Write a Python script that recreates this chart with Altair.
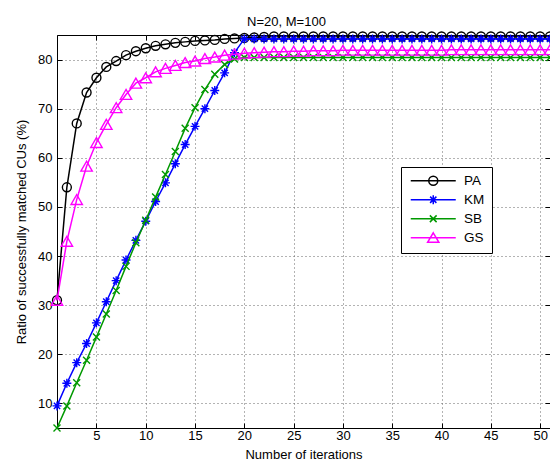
import altair as alt
import pandas as pd

iterations = list(range(1, 52))

PA = [31.0, 54.0, 67.0, 73.3, 76.3, 78.5, 79.7, 80.9, 81.7, 82.3,
      82.8, 83.1, 83.4, 83.6, 83.8, 83.9, 84.0, 84.2, 84.3, 84.4,
      84.5, 84.6, 84.7, 84.7, 84.7, 84.7, 84.7, 84.7, 84.7, 84.7,
      84.7, 84.7, 84.7, 84.7, 84.7, 84.7, 84.7, 84.7, 84.7, 84.7,
      84.7, 84.7, 84.7, 84.7, 84.7, 84.7, 84.7, 84.7, 84.7, 84.7,
      84.7]
KM = [9.5, 14.1, 18.3, 22.2, 26.4, 30.7, 35.0, 39.2, 43.2, 47.1,
      51.1, 54.9, 58.8, 62.7, 66.4, 70.0, 73.7, 77.3, 81.4, 84.2,
      84.2, 84.2, 84.2, 84.2, 84.2, 84.2, 84.2, 84.2, 84.2, 84.2,
      84.2, 84.2, 84.2, 84.2, 84.2, 84.2, 84.2, 84.2, 84.2, 84.2,
      84.2, 84.2, 84.2, 84.2, 84.2, 84.2, 84.2, 84.2, 84.2, 84.2,
      84.2]
SB = [5.0, 9.5, 14.2, 18.8, 23.5, 28.2, 33.0, 37.9, 42.7, 47.3,
      52.0, 56.6, 61.3, 66.0, 70.2, 73.9, 77.0, 79.0, 80.1, 80.4,
      80.4, 80.4, 80.4, 80.4, 80.4, 80.4, 80.4, 80.4, 80.4, 80.4,
      80.4, 80.4, 80.4, 80.4, 80.4, 80.4, 80.4, 80.4, 80.4, 80.4,
      80.4, 80.4, 80.4, 80.4, 80.4, 80.4, 80.4, 80.4, 80.4, 80.4,
      80.4]
GS = [31.0, 43.0, 51.5, 58.3, 63.1, 66.8, 70.2, 72.9, 75.2, 76.3,
      77.5, 78.2, 78.8, 79.4, 79.7, 80.2, 80.5, 80.9, 81.1, 81.3,
      81.4, 81.5, 81.6, 81.6, 81.7, 81.7, 81.8, 81.8, 81.8, 81.9,
      81.9, 81.9, 81.9, 81.9, 81.9, 81.9, 81.9, 81.9, 81.9, 81.9,
      82.0, 82.0, 82.0, 82.0, 82.0, 82.0, 82.0, 82.0, 82.0, 82.0,
      82.0]

series_names = ["PA", "KM", "SB", "GS"]
series_values = [PA, KM, SB, GS]
colors = ["#000000", "#0000ff", "#009900", "#ff00ff"]

x_ticks = [5, 10, 15, 20, 25, 30, 35, 40, 45, 50]
y_ticks = [10, 20, 30, 40, 50, 60, 70, 80]

ASTER = "M0,-1L0,1M-1,0L1,0M-0.7,-0.7L0.7,0.7M-0.7,0.7L0.7,-0.7"
XMARK = "M-1,-1L1,1M-1,1L1,-1"
marker_shapes = ["circle", ASTER, XMARK, "triangle-up"]
marker_sizes = [80, 81, 49, 130]

legend_paths = [
    "M-5,0L5,0M1,0A1,1 0 1,1 -1,0A1,1 0 1,1 1,0",
    "M-5,0L5,0M0,-1L0,1M-0.7,-0.7L0.7,0.7M-0.7,0.7L0.7,-0.7",
    "M-5,0L5,0M-0.75,-0.75L0.75,0.75M-0.75,0.75L0.75,-0.75",
    "M-5,0L5,0M0,-1.1L1.25,1L-1.25,1Z",
]

rows = []
for name, vals in zip(series_names, series_values):
    for it, v in zip(iterations, vals):
        rows.append({"iter": it, "ratio": v, "series": name})
df = pd.DataFrame(rows)

FONT = "Liberation Sans"
x_scale = alt.Scale(domain=[1, 51], nice=False, zero=False)
y_scale = alt.Scale(domain=[5, 85], nice=False, zero=False)

x_main = alt.X("iter:Q", scale=x_scale,
               axis=alt.Axis(values=x_ticks, title="Number of iterations", labelPadding=1,
                             titlePadding=6, grid=True))
y_main = alt.Y("ratio:Q", scale=y_scale,
               axis=alt.Axis(values=y_ticks, title="Ratio of successfully matched CUs (%)",
                             labelPadding=5, titlePadding=9, grid=True))
x_plain = alt.X("iter:Q", scale=x_scale, axis=None)
y_plain = alt.Y("ratio:Q", scale=y_scale, axis=None)


def tick_axis(values, orient):
    return alt.Axis(values=values, orient=orient, offset=-5, ticks=True, tickSize=5,
                    tickColor="black", tickWidth=1, labels=False, domain=False,
                    grid=False, title="")


layers = []
for i, name in enumerate(series_names):
    base = alt.Chart(df).transform_filter(alt.datum.series == name)
    if i == 0:
        xe, ye = x_main, y_main
    else:
        xe, ye = x_plain, y_plain
    line = base.mark_line(color=colors[i], strokeWidth=1.5).encode(x=xe, y=ye)
    pts = base.mark_point(shape=marker_shapes[i], size=marker_sizes[i], color=colors[i],
                          filled=False, strokeWidth=1.4, opacity=1).encode(x=x_plain, y=y_plain)
    layers += [line, pts]

empty = alt.Chart(df).transform_filter("datum.iter < 0")

ticks_bl = empty.mark_point(opacity=0).encode(
    x=alt.X("iter:Q", scale=x_scale, axis=tick_axis(x_ticks, "bottom")),
    y=alt.Y("ratio:Q", scale=y_scale, axis=tick_axis(y_ticks, "left")),
)
ticks_tr = empty.mark_point(opacity=0).encode(
    x=alt.X("iter:Q", scale=x_scale, axis=tick_axis(x_ticks, "top")),
    y=alt.Y("ratio:Q", scale=y_scale, axis=tick_axis(y_ticks, "right")),
)

legend_layer = empty.mark_point(
    filled=False, strokeWidth=1.5, opacity=1, size=81
).encode(
    x=x_plain,
    y=y_plain,
    color=alt.Color("series:N", scale=alt.Scale(domain=series_names, range=colors),
                    title=None,
                    legend=alt.Legend(orient="none", legendX=344, legendY=132,
                                      direction="vertical", padding=7,
                                      strokeColor="black", fillColor="white",
                                      symbolSize=81, symbolStrokeWidth=1.5,
                                      symbolOffset=18.5, labelOffset=24,
                                      labelFontSize=13.5, labelFont=FONT,
                                      labelColor="black", rowPadding=3,
                                      symbolFillColor="transparent")),
    shape=alt.Shape("series:N", scale=alt.Scale(domain=series_names, range=legend_paths),
                    title=None),
)

chart = alt.layer(*layers, ticks_bl, ticks_tr, legend_layer).resolve_axis(
    x="independent", y="independent"
).properties(
    width=493,
    height=393,
    padding={"left": 49, "top": 27, "right": 0, "bottom": 33},
    autosize=alt.AutoSizeParams(type="none"),
    title=alt.TitleParams("N=20, M=100", font=FONT, fontSize=13, fontWeight="normal",
                          color="black", dx=-17, offset=0),
).configure_axis(
    labelFont=FONT, labelFontSize=13, labelColor="black",
    titleFont=FONT, titleFontSize=13, titleFontWeight="normal", titleColor="black",
    domainColor="black", domainWidth=1, ticks=False, tickSize=0,
    gridColor="#666666", gridDash=[1, 3], gridWidth=1,
).configure_view(stroke="black", strokeWidth=1)

chart.save("out.html", embed_options={"renderer": "svg", "actions": False})
